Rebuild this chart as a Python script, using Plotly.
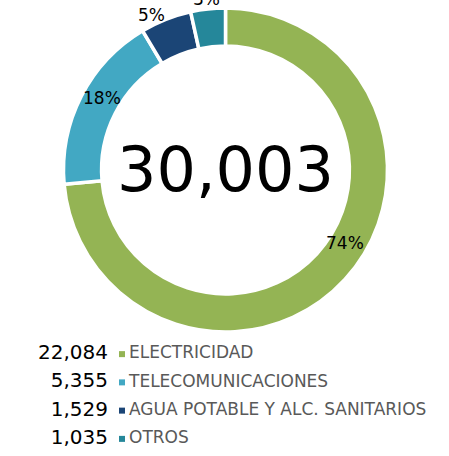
import math
import plotly.graph_objects as go

# data
categories = ["ELECTRICIDAD", "TELECOMUNICACIONES", "AGUA POTABLE Y ALC. SANITARIOS", "OTROS"]
values = [22084, 5355, 1529, 1035]
colors = ["#94B454", "#42A8C3", "#1B4576", "#25879A"]

total = sum(values)
FONT = "DejaVu Sans"
W, H = 449, 456


def px_x(x):
    return x / W


def px_y(y):
    return 1 - y / H


# donut geometry (pixels)
CX, CY, R_OUT = 225.5, 170, 162
# label placement: radius and small angular nudge (degrees) per slice
label_r = [140, 143, 172, 172]
label_nudge = [-11, 3, -4, 0]

fig = go.Figure()

fig.add_trace(go.Pie(
    labels=categories,
    values=values,
    hole=0.765,
    sort=False,
    direction="clockwise",
    rotation=0,
    marker=dict(colors=colors, line=dict(color="white", width=3.5)),
    textposition="none",
    domain=dict(x=[px_x(CX - R_OUT), px_x(CX + R_OUT)], y=[px_y(CY + R_OUT), px_y(CY - R_OUT)]),
    showlegend=False,
    hoverinfo="label+value+percent",
))

# percentage labels at each slice's middle angle
cum = 0
for v, r, nudge in zip(values, label_r, label_nudge):
    mid = (cum + v / 2) / total * 360 + nudge
    cum += v
    lx = CX + r * math.sin(math.radians(mid))
    ly = CY - r * math.cos(math.radians(mid))
    fig.add_annotation(
        text=f"{v / total:.0%}", x=px_x(lx), y=px_y(ly), xref="paper", yref="paper",
        xanchor="center", yanchor="middle",
        showarrow=False, font=dict(family=FONT, size=17, color="black"),
    )

# custom legend: value, square marker, label
rows = list(range(len(categories)))
val_text = [f"{v:,}" for v in values]

fig.add_trace(go.Scatter(
    x=[-14] * len(rows), y=rows, mode="text",
    text=val_text, textposition="middle left",
    textfont=dict(family=FONT, size=20, color="black"),
    showlegend=False, hoverinfo="skip",
))
fig.add_trace(go.Scatter(
    x=[0] * len(rows), y=rows, mode="markers",
    marker=dict(symbol="square", size=6, color=colors),
    showlegend=False, hoverinfo="skip",
))
fig.add_trace(go.Scatter(
    x=[7] * len(rows), y=rows, mode="text",
    text=categories, textposition="middle right",
    textfont=dict(family=FONT, size=17, color="#595959"),
    showlegend=False, hoverinfo="skip",
))

fig.add_annotation(
    text=f"{total:,}", x=px_x(CX), y=px_y(CY), xref="paper", yref="paper",
    xanchor="center", yanchor="middle",
    showarrow=False, font=dict(family=FONT, size=62, color="black"),
)

# legend area: marker column at x=122, rows centred at y=354..439
fig.update_layout(
    width=W, height=H,
    margin=dict(l=0, r=0, t=0, b=0),
    paper_bgcolor="white", plot_bgcolor="white",
    xaxis=dict(domain=[0, 1], range=[-122, W - 122], visible=False, fixedrange=True),
    yaxis=dict(domain=[px_y(453), px_y(340)], range=[3.5, -0.5], visible=False, fixedrange=True),
)

# drop the default 8px page margin so the figure fills the window
fig.write_html(
    "out.html",
    config={"displayModeBar": False},
    post_script="document.body.style.margin='0';",
)
